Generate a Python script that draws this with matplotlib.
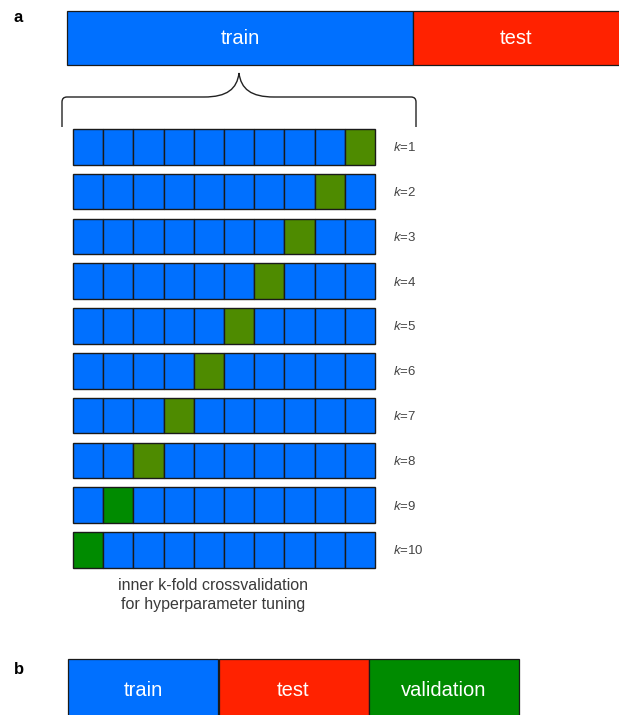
"""Nested cross-validation schematic: train/test split with inner k-fold CV."""
import matplotlib
matplotlib.use('Agg')
import matplotlib.pyplot as plt
from matplotlib.patches import Rectangle, PathPatch
from matplotlib.path import Path

plt.rcParams['font.family'] = ['Liberation Sans', 'DejaVu Sans']
plt.rcParams['mathtext.fontset'] = 'custom'
plt.rcParams['mathtext.it'] = 'Liberation Sans:italic'
plt.rcParams['mathtext.rm'] = 'Liberation Sans'

# data
top_labels = ['train', 'test']
bottom_labels = ['train', 'test', 'validation']
n_folds = 10
k_values = list(range(1, 11))
val_fold = [10, 9, 8, 7, 6, 5, 4, 3, 2, 1]   # which fold (1-based) is held out for each k
caption = ['inner k-fold crossvalidation', 'for hyperparameter tuning']

# styles
BLUE = '#0070ff'
RED = '#ff2200'
OLIVE = '#4e8b00'
GREEN = '#008b00'
EDGE = '#1a1a1a'
top_colors = [BLUE, RED]
bottom_colors = [BLUE, RED, GREEN]
val_colors = [OLIVE] * 8 + [GREEN] * 2

W, H = 619, 715
fig = plt.figure(figsize=(W / 100, H / 100), dpi=100)
ax = fig.add_axes([0, 0, 1, 1])
ax.set_xlim(0, W)
ax.set_ylim(H, 0)
ax.axis('off')

# panel a: outer split
top_x = [67, 413]
top_w = [346, 215]
for lab, col, x0, w in zip(top_labels, top_colors, top_x, top_w):
    ax.add_patch(Rectangle((x0, 11), w, 54, fc=col, ec=EDGE, lw=0.9))
    ax.text(x0 + min(w, 619 - x0) / 2, 39, lab, color='white', fontsize=14.5,
            ha='center', va='center')
ax.text(18, 18, 'a', fontsize=12, fontweight='bold', ha='center', va='center')

# curly brace under the train block
L, R, tip, yb, yleg = 62, 416, 239, 97, 127
verts = [(L, yleg), (L, yb + 5), (L, yb), (L + 5, yb),
         (tip - 35, yb), (tip - 12, yb), (tip - 2, yb - 8), (tip, yb - 24),
         (tip + 2, yb - 8), (tip + 12, yb), (tip + 35, yb),
         (R - 5, yb), (R, yb), (R, yb + 5), (R, yleg)]
codes = [Path.MOVETO, Path.LINETO, Path.CURVE3, Path.CURVE3,
         Path.LINETO, Path.CURVE4, Path.CURVE4, Path.CURVE4,
         Path.CURVE4, Path.CURVE4, Path.CURVE4,
         Path.LINETO, Path.CURVE3, Path.CURVE3, Path.LINETO]
ax.add_patch(PathPatch(Path(verts, codes), fc='none', ec='#222222', lw=1.0))

# inner k-fold rows
gx0, gx1 = 73, 375
cell_w = (gx1 - gx0) / n_folds
row_h = 35.5
pitch = 44.8
for i, (k, vf) in enumerate(zip(k_values, val_fold)):
    y0 = 129 + i * pitch
    for j in range(n_folds):
        col = val_colors[i] if j == vf - 1 else BLUE
        ax.add_patch(Rectangle((gx0 + j * cell_w, y0), cell_w, row_h,
                               fc=col, ec=EDGE, lw=1.0))
    ax.text(393, y0 + row_h / 2 + 1, r'$k$=%d' % k, fontsize=9.5,
            color='#444444', ha='left', va='center')

ax.text(213, 586, caption[0], fontsize=11.5, color='#3a3a3a', ha='center', va='center')
ax.text(213, 605, caption[1], fontsize=11.5, color='#3a3a3a', ha='center', va='center')

# panel b: train/test/validation split
ax.text(19, 670, 'b', fontsize=12, fontweight='bold', ha='center', va='center')
bx = [68, 218.5, 369]
for lab, col, x0 in zip(bottom_labels, bottom_colors, bx):
    ax.add_patch(Rectangle((x0, 659), 150, 70, fc=col, ec=EDGE, lw=0.9))
    ax.text(x0 + 75, 690, lab, color='white', fontsize=14.5, ha='center', va='center')

fig.savefig('out.png', dpi=100)
